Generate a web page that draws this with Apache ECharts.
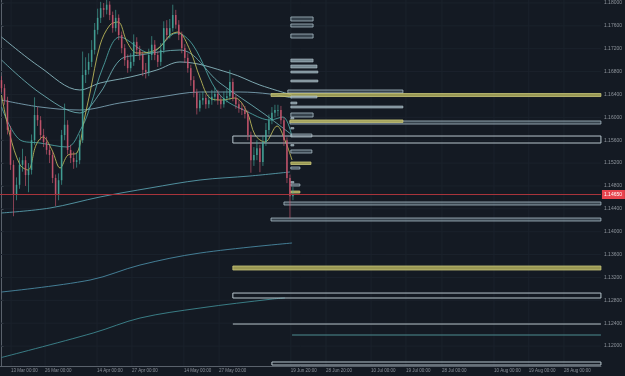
<!DOCTYPE html>
<html><head><meta charset="utf-8">
<script src="https://cdn.jsdelivr.net/npm/echarts@6/dist/echarts.min.js"></script>
<style>html,body{margin:0;padding:0;background:#141a23}#c{width:625px;height:376px}</style>
</head><body><div id="c"></div>
<script>
// ---- data ----
const candleOpen = [1.1665,1.1651,1.1630,1.1578,1.1517,1.1464,1.1482,1.1517,1.1525,1.1499,1.1508,1.1560,1.1604,1.1595,1.1569,1.1557,1.1543,1.1534,1.1494,1.1464,1.1490,1.1569,1.1587,1.1543,1.1529,1.1522,1.1525,1.1560,1.1674,1.1683,1.1697,1.1718,1.1753,1.1774,1.1791,1.1788,1.1797,1.1779,1.1756,1.1774,1.1744,1.1721,1.1700,1.1686,1.1697,1.1732,1.1718,1.1709,1.1683,1.1679,1.1709,1.1727,1.1709,1.1697,1.1718,1.1756,1.1744,1.1756,1.1779,1.1762,1.1744,1.1721,1.1704,1.1686,1.1665,1.1644,1.1616,1.1630,1.1634,1.1623,1.1630,1.1636,1.1641,1.1630,1.1623,1.1634,1.1637,1.1662,1.1634,1.1623,1.1616,1.1613,1.1606,1.1569,1.1525,1.1534,1.1546,1.1522,1.1557,1.1578,1.1595,1.1608,1.1613,1.1613,1.1595,1.1560,1.1494,1.1462];
const candleClose = [1.1651,1.1630,1.1578,1.1517,1.1464,1.1482,1.1517,1.1525,1.1499,1.1508,1.1560,1.1604,1.1595,1.1569,1.1557,1.1543,1.1534,1.1494,1.1464,1.1490,1.1569,1.1587,1.1543,1.1529,1.1522,1.1525,1.1560,1.1674,1.1683,1.1697,1.1718,1.1753,1.1774,1.1791,1.1788,1.1797,1.1779,1.1756,1.1774,1.1744,1.1721,1.1700,1.1686,1.1697,1.1732,1.1718,1.1709,1.1683,1.1679,1.1709,1.1727,1.1709,1.1697,1.1718,1.1756,1.1744,1.1756,1.1779,1.1762,1.1744,1.1721,1.1704,1.1686,1.1665,1.1644,1.1616,1.1630,1.1634,1.1623,1.1630,1.1636,1.1641,1.1630,1.1623,1.1634,1.1637,1.1662,1.1634,1.1623,1.1616,1.1613,1.1606,1.1569,1.1525,1.1534,1.1546,1.1522,1.1557,1.1578,1.1595,1.1608,1.1613,1.1613,1.1595,1.1560,1.1494,1.1462,1.1465];
const candleHigh = [1.1672,1.1658,1.1636,1.1585,1.1525,1.1495,1.1530,1.1545,1.1532,1.1520,1.1570,1.1635,1.1618,1.1602,1.1580,1.1566,1.1552,1.1540,1.1500,1.1502,1.1578,1.1624,1.1595,1.1552,1.1540,1.1538,1.1570,1.1715,1.1705,1.1712,1.1735,1.1765,1.1790,1.1802,1.1800,1.1806,1.1803,1.1785,1.1788,1.1780,1.1750,1.1728,1.1710,1.1712,1.1745,1.1740,1.1725,1.1715,1.1695,1.1720,1.1742,1.1735,1.1715,1.1730,1.1768,1.1770,1.1772,1.1797,1.1788,1.1770,1.1750,1.1728,1.1712,1.1692,1.1672,1.1650,1.1642,1.1645,1.1640,1.1640,1.1648,1.1652,1.1648,1.1638,1.1645,1.1650,1.1683,1.1668,1.1640,1.1630,1.1625,1.1620,1.1612,1.1575,1.1548,1.1560,1.1552,1.1568,1.1590,1.1605,1.1618,1.1622,1.1622,1.1620,1.1600,1.1565,1.1500,1.1478];
const candleLow = [1.1644,1.1622,1.1570,1.1508,1.1427,1.1455,1.1475,1.1505,1.1480,1.1469,1.1500,1.1552,1.1585,1.1560,1.1548,1.1535,1.1520,1.1485,1.1445,1.1455,1.1482,1.1560,1.1535,1.1520,1.1510,1.1512,1.1518,1.1555,1.1660,1.1675,1.1688,1.1710,1.1745,1.1765,1.1775,1.1780,1.1770,1.1748,1.1750,1.1735,1.1712,1.1690,1.1678,1.1680,1.1690,1.1710,1.1700,1.1672,1.1668,1.1672,1.1700,1.1700,1.1688,1.1690,1.1712,1.1735,1.1738,1.1750,1.1755,1.1735,1.1712,1.1695,1.1678,1.1655,1.1635,1.1605,1.1610,1.1622,1.1615,1.1616,1.1622,1.1628,1.1622,1.1615,1.1617,1.1626,1.1630,1.1628,1.1615,1.1608,1.1604,1.1598,1.1560,1.1503,1.1515,1.1525,1.1504,1.1515,1.1550,1.1570,1.1588,1.1600,1.1602,1.1588,1.1550,1.1485,1.1424,1.1455];

// moving averages: [bar index, price]
const maFast = [[0,1.16391],[2.8,1.15691],[6.2,1.15166],[8.8,1.15079],[11.5,1.15516],[13.8,1.15656],[16.8,1.15429],[19.5,1.15114],[22.1,1.15341],[25.1,1.15376],[27.5,1.15954],[29.5,1.16443],[32.8,1.17265],[36.1,1.17615],[38.8,1.17667],[41.8,1.17317],[45.1,1.17125],[49.4,1.17143],[52.7,1.17230],[56.1,1.17440],[58.7,1.17492],[62.7,1.17177],[66.1,1.16688],[69.4,1.16338],[73.4,1.16303],[77.7,1.16338],[81.7,1.16093],[84.4,1.15691],[87.7,1.15569],[91.7,1.15848],[94.3,1.15604],[96.7,1.15254]];
const ma20 = [[0,1.16181],[6.2,1.15604],[12.8,1.15551],[21.8,1.15481],[26.8,1.15831],[29.5,1.16181],[33.8,1.16880],[39.4,1.17405],[49.4,1.17125],[58.4,1.17475],[63.7,1.17265],[72.7,1.16391],[82.7,1.16076],[89.4,1.15954],[93.7,1.16006],[96.7,1.15656]];
const ma50 = [[0,1.17003],[12.8,1.16426],[26.1,1.16076],[32.8,1.16426],[39.4,1.17003],[46.1,1.17090],[59.4,1.17177],[72.7,1.16600],[87.0,1.16076],[96.7,1.15691]];
const ma100 = [[0,1.17405],[12.8,1.16880],[26.1,1.16478],[32.8,1.16600],[42.8,1.16705],[51.7,1.16828],[59.4,1.16968],[76.0,1.16775],[86.0,1.16565],[96.7,1.16391]];
const maSlow = [[0,1.16303],[12.8,1.16181],[26.1,1.16128],[39.4,1.16251],[52.7,1.16356],[66.1,1.16443],[79.4,1.16443],[89.4,1.16408],[96.7,1.16338]];
const ma200 = [[0,1.14327],[16.1,1.14414],[32.8,1.14607],[49.4,1.14764],[66.1,1.14904],[82.7,1.14974],[96.0,1.15044]];
const maWeekly1 = [[0,1.12945],[29.5,1.13155],[46.1,1.13417],[66.1,1.13627],[96.7,1.13802]];
const maWeekly2 = [[0,1.11800],[30.5,1.12228],[46.1,1.12490],[66.1,1.12665],[90.3,1.12823],[94.3,1.12840]];

// price zones: [top, bottom, start bar, end bar, kind]
const zones = [
  [1.17755,1.17685,96.3,103.7,'box'],
  [1.17632,1.17580,96.3,103.7,'box'],
  [1.17457,1.17387,96.3,103.7,'box'],
  [1.17020,1.16968,96.3,103.7,'solid'],
  [1.16915,1.16863,96.3,105.0,'solid'],
  [1.16810,1.16775,96.3,105.3,'solid'],
  [1.16653,1.16618,96.3,105.3,'solid'],
  [1.16478,1.16426,95.3,133.6,'box'],
  [1.16417,1.16364,89.7,199.5,'gold'],
  [1.16373,1.16338,96.3,105.0,'solid'],
  [1.16268,1.16233,96.3,98.3,'solid'],
  [1.16198,1.16163,96.3,133.6,'solid'],
  [1.16076,1.16006,96.3,103.7,'box'],
  [1.15997,1.15971,96.3,97.3,'solid'],
  [1.15936,1.15883,96.0,199.5,'box'],
  [1.15954,1.15910,96.0,133.6,'gold'],
  [1.15822,1.15796,96.3,97.3,'solid'],
  [1.15708,1.15656,96.3,103.3,'box'],
  [1.15673,1.15551,77.0,199.5,'wide'],
  [1.15525,1.15499,96.3,97.3,'solid'],
  [1.15429,1.15376,96.3,103.3,'box'],
  [1.15219,1.15175,96.3,103.0,'gold'],
  [1.15131,1.15096,96.3,99.3,'box'],
  [1.14878,1.14851,96.3,97.3,'solid'],
  [1.14834,1.14799,96.3,99.3,'box'],
  [1.14711,1.14676,96.3,99.3,'gold'],
  [1.14519,1.14467,94.0,199.5,'box'],
  [1.14239,1.14187,89.7,199.5,'box'],
  [1.13400,1.13330,77.0,199.5,'gold'],
  [1.12927,1.12840,77.0,199.5,'wide'],
  [1.12385,1.12385,77.0,199.5,'line'],
  [1.12193,1.12193,96.7,199.5,'teal'],
  [1.11721,1.11668,90.0,199.5,'wide']
];

const yTicks = [1.12,1.124,1.128,1.132,1.136,1.14,1.144,1.148,1.152,1.156,1.16,1.164,1.168,1.172,1.176,1.18];
const xTickPos = [3.2,14.5,31.8,43.4,60.7,72.4,96.3,108.0,123.0,134.6,146.6,163.9,175.5,187.2];
const xTickLabels = ['13 Mar 00:00','26 Mar 00:00','14 Apr 00:00','27 Apr 00:00','14 May 00:00','27 May 00:00','19 Jun 20:00','28 Jun 20:00','10 Jul 00:00','19 Jul 00:00','28 Jul 00:00','10 Aug 00:00','19 Aug 00:00','28 Aug 00:00'];

// ---- chart ----
const X_MIN = -0.5, X_MAX = 199.5, Y_MIN = 1.11651, Y_MAX = 1.18052;
const chart = echarts.init(document.getElementById('c'));
const candleData = candleOpen.map((o,i)=>[i,o,candleClose[i],candleLow[i],candleHigh[i]]);
const lastPrice = candleClose[candleClose.length-1];
const UP = 'rgba(70,170,158,0.8)', DOWN = 'rgba(205,88,112,0.8)';
const zoneStyle = {
  box:  {fill:'rgba(120,145,158,0.35)', stroke:'#a9bcc6', lw:0.8},
  solid:{fill:'rgba(150,172,182,0.75)', stroke:'#b3c4cc', lw:0.6},
  gold: {fill:'rgba(176,174,92,0.85)', stroke:'#c9c77a', lw:0.8},
  wide: {fill:'rgba(0,0,0,0)', stroke:'#b8c6cd', lw:1},
  line: {fill:'none', stroke:'#b9c5cb', lw:1},
  teal: {fill:'none', stroke:'#4d8d92', lw:1}
};
function maSeries(data,color,w){
  return {type:'line',data:data,smooth:0.35,showSymbol:false,symbol:'none',silent:true,
    lineStyle:{color:color,width:w||1,opacity:0.85},z:3};
}
chart.setOption({
  animation:false,
  backgroundColor:'#141a23',
  grid:{left:0,right:24,top:0,bottom:10},
  xAxis:{type:'value',min:X_MIN,max:X_MAX,
    axisLine:{show:true,lineStyle:{color:'#59616b',width:1}},
    axisTick:{show:false},splitLine:{show:false},
    axisLabel:{customValues:xTickPos,align:'left',margin:2,fontSize:4.5,color:'#8a9099',fontFamily:'Liberation Sans',
      formatter:function(v){const k=xTickPos.findIndex(p=>Math.abs(p-v)<1e-6);return k>=0?xTickLabels[k]:'';}}},
  yAxis:{type:'value',position:'right',min:Y_MIN,max:Y_MAX,
    axisLine:{show:true,lineStyle:{color:'#59616b',width:1}},
    axisTick:{show:true,customValues:yTicks,length:2,lineStyle:{color:'#59616b'}},
    splitLine:{show:false},
    axisLabel:{customValues:yTicks,margin:3,fontSize:5,color:'#8e949c',fontFamily:'Liberation Sans',
      formatter:function(v){return v.toFixed(5);}}},
  series:[
    // grid lines
    {type:'custom',silent:true,z:1,data:[0],
      renderItem:function(params,api){
        const ch=[];
        yTicks.forEach(t=>{const a=api.coord([X_MIN,t]),b=api.coord([X_MAX,t]);
          ch.push({type:'line',shape:{x1:a[0],y1:a[1],x2:b[0],y2:b[1]},style:{stroke:'#1b222c',lineWidth:1}});});
        xTickPos.forEach(p=>{const a=api.coord([p,Y_MIN]),b=api.coord([p,Y_MAX]);
          ch.push({type:'line',shape:{x1:a[0],y1:a[1],x2:b[0],y2:b[1]},style:{stroke:'#1b222c',lineWidth:1}});});
        return {type:'group',children:ch};
      }},
    maSeries(maWeekly2,'#3f8d95'),
    maSeries(maWeekly1,'#4b8ea8'),
    maSeries(ma200,'#5aa3b3'),
    {type:'custom',silent:true,z:4,data:zones,
      renderItem:function(params,api){
        const z = zones[params.dataIndex];
        const st = zoneStyle[z[4]];
        const a = api.coord([z[2],z[0]]), b = api.coord([z[3],z[1]]);
        if(z[4]==='line'||z[4]==='teal'){
          return {type:'line',shape:{x1:a[0],y1:a[1],x2:b[0],y2:a[1]},style:{stroke:st.stroke,lineWidth:st.lw}};
        }
        return {type:'rect',shape:{x:a[0],y:a[1],width:b[0]-a[0],height:Math.max(b[1]-a[1],1.5)},
          style:{fill:st.fill,stroke:st.stroke,lineWidth:st.lw}};
      }},
    maSeries(maSlow,'#7fa7b8'),
    maSeries(ma100,'#8fc0c8'),
    maSeries(ma50,'#6fb1b6'),
    maSeries(ma20,'#4fa7a6'),
    {type:'custom',z:5,silent:true,data:candleData,
      renderItem:function(params,api){
        const i=api.value(0),o=api.value(1),c=api.value(2),l=api.value(3),h=api.value(4);
        const po=api.coord([i,o]),pc=api.coord([i,c]),pl=api.coord([i,l]),ph=api.coord([i,h]);
        const col = c>=o?UP:DOWN;
        const top=Math.min(po[1],pc[1]),bot=Math.max(po[1],pc[1]);
        const w=1.6;
        return {type:'group',children:[
          {type:'line',shape:{x1:ph[0],y1:ph[1],x2:pl[0],y2:pl[1]},style:{stroke:col,lineWidth:0.8}},
          {type:'rect',shape:{x:po[0]-w/2,y:top,width:w,height:Math.max(bot-top,0.8)},style:{fill:col}}
        ]};
      }},
    maSeries(maFast,'#c2bd5c'),
    // last price line
    {type:'line',silent:true,z:6,symbol:'none',showSymbol:false,
      data:[[X_MIN,lastPrice],[X_MAX,lastPrice]],
      lineStyle:{color:'#a8343b',width:1.2}},
    // last price tag
    {type:'custom',silent:true,z:7,clip:false,data:[[X_MAX,lastPrice]],
      renderItem:function(params,api){
        const p=api.coord([api.value(0),api.value(1)]);
        return {type:'group',children:[
          {type:'rect',shape:{x:p[0]+1,y:p[1]-4.5,width:23,height:9},style:{fill:'#e8444e'}},
          {type:'text',style:{x:p[0]+3,y:p[1],text:api.value(1).toFixed(5),fill:'#ffffff',fontSize:5,fontFamily:'Liberation Sans',verticalAlign:'middle',align:'left'}}
        ]};
      }}
  ]
});
</script>
</body></html>
